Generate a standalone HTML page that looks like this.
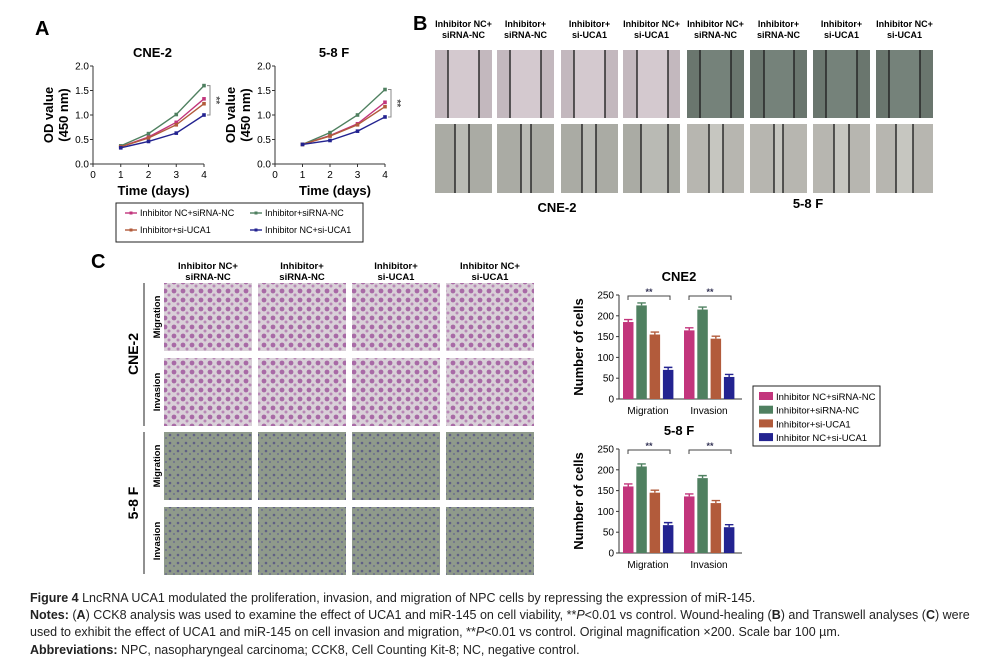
<!DOCTYPE html>
<html><head><meta charset="utf-8">
<style>
body{margin:0;background:#fff;}
svg{display:block;font-family:"Liberation Sans",Arial,sans-serif;}
.cap{position:absolute;left:30px;font:12.5px "Liberation Sans",sans-serif;color:#222;white-space:nowrap;}
</style></head>
<body>
<div style="position:relative;width:1002px;height:670px;overflow:hidden">
<svg id="fig" width="1002" height="670">
<defs>
<pattern id="pp" width="9" height="9" patternUnits="userSpaceOnUse"><rect width="9" height="9" fill="#d9d0d8"/><circle cx="3" cy="3" r="2.4" fill="#a86aa6"/><circle cx="7" cy="7" r="1.5" fill="#b887b6"/></pattern>
<pattern id="pg" width="8" height="8" patternUnits="userSpaceOnUse"><rect width="8" height="8" fill="#8f9a8b"/><circle cx="2" cy="3" r="1.3" fill="#5f5f85"/><circle cx="6" cy="6" r="1" fill="#6d6e8d"/></pattern>
</defs>
<text x="35" y="35" font-size="20" font-weight="bold">A</text>
<text x="413" y="30" font-size="20" font-weight="bold">B</text>
<text x="91" y="268" font-size="20" font-weight="bold">C</text>
<g id="lines"></g>
<g id="bars"></g>
<g id="wound"></g>
<g id="trans"></g>
</svg>
<div class="cap" style="top:591px"><b>Figure 4</b> LncRNA UCA1 modulated the proliferation, invasion, and migration of NPC cells by repressing the expression of miR-145.</div>
<div class="cap" style="top:608px"><b>Notes:</b> (<b>A</b>) CCK8 analysis was used to examine the effect of UCA1 and miR-145 on cell viability, **<i>P</i>&lt;0.01 vs control. Wound-healing (<b>B</b>) and Transwell analyses (<b>C</b>) were</div>
<div class="cap" style="top:625px">used to exhibit the effect of UCA1 and miR-145 on cell invasion and migration, **<i>P</i>&lt;0.01 vs control. Original magnification ×200. Scale bar 100 µm.</div>
<div class="cap" style="top:643px"><b>Abbreviations:</b> NPC, nasopharyngeal carcinoma; CCK8, Cell Counting Kit-8; NC, negative control.</div>
</div>
<script>
const NS="http://www.w3.org/2000/svg";
const seriesNames=["Inhibitor NC+siRNA-NC","Inhibitor+siRNA-NC","Inhibitor+si-UCA1","Inhibitor NC+si-UCA1"];
const colors=["#c2357c","#4f8060","#b25b3b","#232390"];
const days=[1,2,3,4];
const odCNE2_a=[0.35,0.55,0.85,1.33];
const odCNE2_b=[0.37,0.62,1.01,1.60];
const odCNE2_c=[0.35,0.53,0.80,1.23];
const odCNE2_d=[0.33,0.46,0.63,1.00];
const od58F_a=[0.40,0.58,0.82,1.26];
const od58F_b=[0.40,0.64,1.00,1.52];
const od58F_c=[0.40,0.57,0.80,1.17];
const od58F_d=[0.40,0.48,0.67,0.96];
const odTicks=[0,0.5,1.0,1.5,2.0];
const dayTicks=[0,1,2,3,4];
const barCats=["Migration","Invasion"];
const cne2_a=[185,165], cne2_b=[225,215], cne2_c=[155,145], cne2_d=[70,53];
const f58_a=[160,136], f58_b=[208,180], f58_c=[145,120], f58_d=[67,62];
const cellTicks=[0,50,100,150,200,250];
const groupLabels=[["Inhibitor NC+","siRNA-NC"],["Inhibitor+","siRNA-NC"],["Inhibitor+","si-UCA1"],["Inhibitor NC+","si-UCA1"]];

function el(tag,attrs,parent,txt){const e=document.createElementNS(NS,tag);for(const k in attrs)e.setAttribute(k,attrs[k]);if(txt!==undefined)e.textContent=txt;parent.appendChild(e);return e;}

// ---------- line charts
const LG=document.getElementById('lines');
function lineChart(x0,x4,title,data,name,br){
  const g=el('g',{},LG);
  
  
  const X=v=>x0+(x4-x0)*v/4, Y=v=>164-49*v;
  el('line',{x1:x0,y1:Y(0),x2:x0,y2:Y(2),stroke:'#333'},g);
  el('line',{x1:x0,y1:Y(0),x2:X(4),y2:Y(0),stroke:'#333'},g);
  odTicks.forEach(t=>{el('line',{x1:x0-3,x2:x0,y1:Y(t),y2:Y(t),stroke:'#333'},g);
    const tx=el('text',{x:x0-4,y:Y(t)+3.5,'font-size':10,'text-anchor':'end'},g,t.toFixed(1));
    });
  dayTicks.forEach(t=>{el('line',{x1:X(t),x2:X(t),y1:Y(0),y2:Y(0)+3,stroke:'#333'},g);
    const tx=el('text',{x:X(t),y:Y(0)+14,'font-size':10,'text-anchor':'middle'},g,t);
    });
  const tt=el('text',{x:(x0+X(4))/2+4,y:57,'font-size':13,'font-weight':'bold','text-anchor':'middle'},g,title);
  
  const xt=el('text',{x:(x0+X(4))/2+5,y:195,'font-size':13,'font-weight':'bold','text-anchor':'middle'},g,'Time (days)');
  
  const yt=el('text',{transform:`translate(${x0-40},115) rotate(-90)`,'font-size':13,'font-weight':'bold','text-anchor':'middle'},g);
  
  el('tspan',{x:0,dy:0},yt,'OD value');el('tspan',{x:0,dy:15},yt,'(450 nm)');
  data.forEach((s,i)=>{
    const p=el('polyline',{points:days.map((d,j)=>X(d)+','+Y(s[j])).join(' '),fill:'none',stroke:colors[i],'stroke-width':1.4},g);
    
    days.forEach((d,j)=>{const r=el('rect',{x:X(d)-1.8,y:Y(s[j])-1.8,width:3.6,height:3.6,fill:colors[i]},g);
      });
  });
  const bx=X(4)+6, top=Y(data[1][3]), bot=Y(data[3][3]);
  el('path',{d:`M${bx-3},${top}H${bx}V${bot}H${bx-3}`,fill:'none',stroke:'#888'},g);
  el('text',{transform:`translate(${bx+3},${(top+bot)/2}) rotate(90)`,'font-size':10,'text-anchor':'middle',fill:'#555','font-weight':'bold'},g,'**');
}
lineChart(93,204,'CNE-2',[odCNE2_a,odCNE2_b,odCNE2_c,odCNE2_d],'line-chart-cne2');
lineChart(275,385,'5-8 F',[od58F_a,od58F_b,od58F_c,od58F_d],'line-chart-58f');
// line legend
(function(){const g=el('g',{},LG);
 
 el('rect',{x:116,y:203,width:247,height:39,fill:'none',stroke:'#222'},g);
 const pos=[[125,216],[250,216],[125,233],[250,233]];
 [0,1,2,3].forEach(i=>{const[x,y]=[pos[i][0],pos[i][1]];
  el('line',{x1:x,x2:x+12,y1:y-3,y2:y-3,stroke:colors[i],'stroke-width':1.4},g);
  el('rect',{x:x+4.5,y:y-4.5,width:3,height:3,fill:colors[i]},g);
  const t=el('text',{x:x+15,y:y,'font-size':9},g,seriesNames[i]);
  });
})();

// ---------- bar charts
const BG=document.getElementById('bars');
function barChart(y0,title,data,name){
  const g=el('g',{},BG);
  
  const Y=v=>y0-104*v/250, xa=619, xb=742;
  const cx=[648,709];
  el('line',{x1:xa,x2:xa,y1:Y(0),y2:Y(250),stroke:'#333'},g);
  el('line',{x1:xa,x2:xb,y1:Y(0),y2:Y(0),stroke:'#333'},g);
  cellTicks.forEach(t=>{el('line',{x1:xa-3,x2:xa,y1:Y(t),y2:Y(t),stroke:'#333'},g);
    const tx=el('text',{x:xa-5,y:Y(t)+3.5,'font-size':10,'text-anchor':'end'},g,t);
    });
  barCats.forEach((c,k)=>{const t=el('text',{x:cx[k],y:y0+15,'font-size':10,'text-anchor':'middle'},g,c);
    
    data.forEach((s,i)=>{const bx=cx[k]-25+i*13.3;
      const r=el('rect',{x:bx,y:Y(s[k]),width:10.5,height:Y(0)-Y(s[k]),fill:colors[i]},g);
      
      el('path',{d:`M${bx+1},${Y(s[k])-2.5}H${bx+9.5}M${bx+5.25},${Y(s[k])}V${Y(s[k])-2.5}`,stroke:colors[i],'stroke-width':1.4},g);});
    const l=cx[k]-20, rr=cx[k]+22, by=Y(250)+1;
    el('path',{d:`M${l},${by+4}V${by}H${rr}V${by+4}`,fill:'none',stroke:'#444'},g);
    el('text',{x:(l+rr)/2,y:by-1,'font-size':9,'text-anchor':'middle',fill:'#335','font-weight':'bold'},g,'**');
  });
  const tt=el('text',{x:679,y:y0-118,'font-size':13,'font-weight':'bold','text-anchor':'middle'},g,title);
  
  const yt=el('text',{transform:`translate(583,${y0-52}) rotate(-90)`,'font-size':13,'font-weight':'bold','text-anchor':'middle'},g,'Number of cells');
  
}
barChart(399,'CNE2',[cne2_a,cne2_b,cne2_c,cne2_d],'bar-chart-cne2');
barChart(553,'5-8 F',[f58_a,f58_b,f58_c,f58_d],'bar-chart-58f');
(function(){const g=el('g',{},BG);
 
 el('rect',{x:753,y:386,width:127,height:60,fill:'none',stroke:'#222'},g);
 [0,1,2,3].forEach(i=>{const y=392+i*13.7;
  el('rect',{x:759,y:y,width:14,height:8,fill:colors[i]},g);
  const t=el('text',{x:776,y:y+8,'font-size':9.5},g,seriesNames[i]);
  });
})();

// ---------- wound healing images
const WG=document.getElementById('wound');
const woundX=[435,497,561,623,687,750,813,876];
const gap1=[[13,44],[13,44],[13,44],[14,45],[13,44],[14,44],[13,44],[13,44]];
const gap2=[[20,34],[24,34],[21,35],[18,45],[22,36],[24,33],[21,36],[20,37]];
woundX.forEach((x,i)=>{
  const lab=groupLabels[i%4];
  const t=el('text',{x:x+28.5,y:27,'font-size':9,'font-weight':'bold','text-anchor':'middle'},WG);
  
  el('tspan',{x:x+28.5,dy:0},t,lab[0]);el('tspan',{x:x+28.5,dy:11},t,lab[1]);
  const c1=i<4?['#c3b8be','#d4c9cf']:['#6a766e','#75827a'];
  const r=el('rect',{x:x,y:50,width:57,height:68,fill:c1[0]},WG);
  
  el('rect',{x:x+gap1[i][0],y:50,width:gap1[i][1]-gap1[i][0],height:68,fill:c1[1]},WG);
  gap1[i].forEach(o=>el('rect',{x:x+o-0.7,y:50,width:1.4,height:68,fill:'#222'},WG));
  const c2=i<4?['#aaaba4','#b9bab4']:['#b7b6b0','#c6c6c0'];
  const r2=el('rect',{x:x,y:124,width:57,height:69,fill:c2[0]},WG);
  
  el('rect',{x:x+gap2[i][0],y:124,width:gap2[i][1]-gap2[i][0],height:69,fill:c2[1]},WG);
  gap2[i].forEach(o=>el('rect',{x:x+o-0.7,y:124,width:1.4,height:69,fill:'#222'},WG));
});
[['CNE-2',557,212],['5-8 F',808,208]].forEach(a=>{const t=el('text',{x:a[1],y:a[2],'font-size':13,'font-weight':'bold','text-anchor':'middle'},WG,a[0]);
 });

// ---------- transwell images
const TG=document.getElementById('trans');
const tx=[164,258,352,446], ty=[283,358,432,507];
tx.forEach((x,i)=>{
  const t=el('text',{x:x+44,y:269,'font-size':9.5,'font-weight':'bold','text-anchor':'middle'},TG);
  
  el('tspan',{x:x+44,dy:0},t,groupLabels[i][0]);el('tspan',{x:x+44,dy:11},t,groupLabels[i][1]);
  ty.forEach((y,j)=>{const r=el('rect',{x:x,y:y,width:88,height:68,fill:j<2?'url(#pp)':'url(#pg)'},TG);
    });
});
el('line',{x1:144,x2:144,y1:283,y2:426,stroke:'#222'},TG);
el('line',{x1:144,x2:144,y1:432,y2:574,stroke:'#222'},TG);
[['CNE-2',354],['5-8 F',503]].forEach(a=>{const t=el('text',{transform:`translate(138,${a[1]}) rotate(-90)`,'font-size':14,'font-weight':'bold','text-anchor':'middle'},TG,a[0]);
 });
ty.forEach((y,j)=>{const t=el('text',{transform:`translate(160,${y+34}) rotate(-90)`,'font-size':9.5,'font-weight':'bold','text-anchor':'middle'},TG,j%2?'Invasion':'Migration');
 });
</script>
</body></html>
